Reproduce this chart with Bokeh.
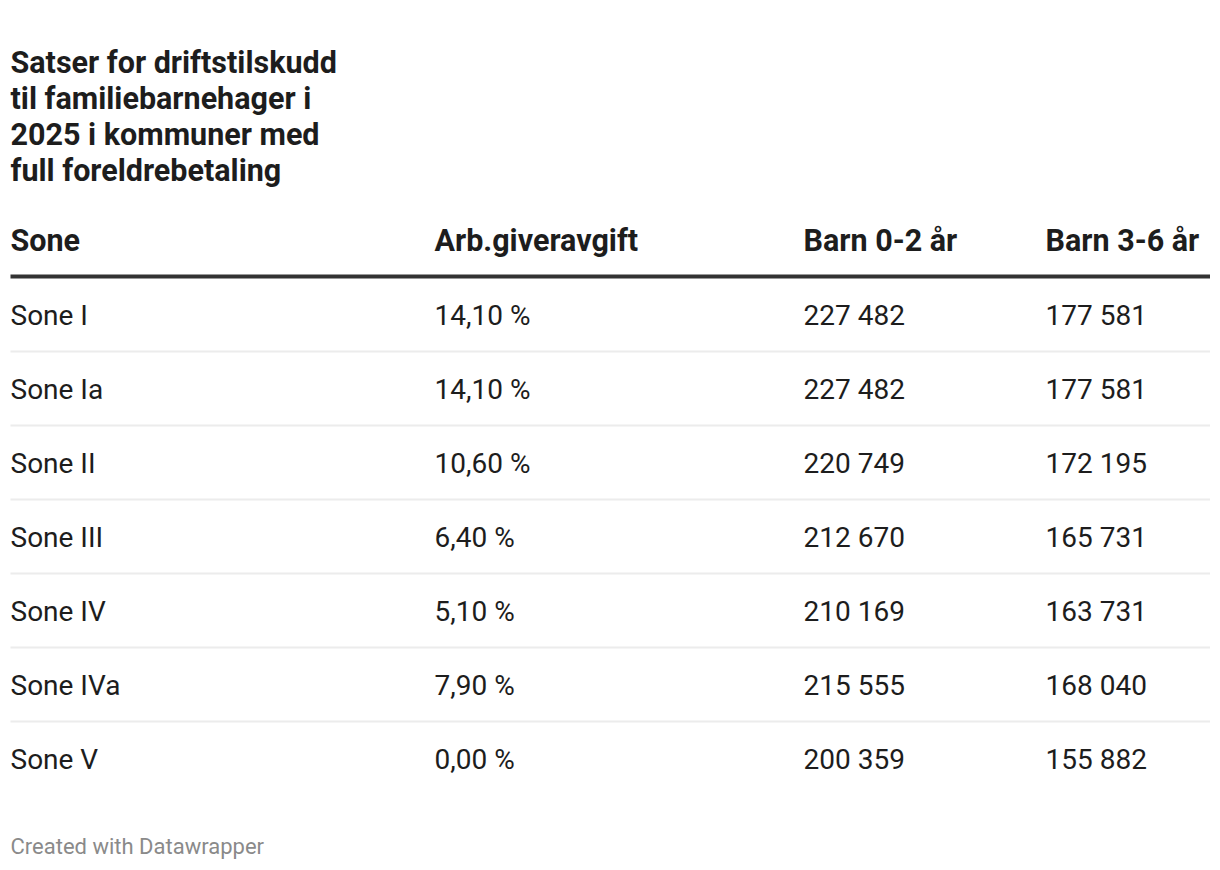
from bokeh.plotting import figure
from bokeh.models import Range1d, ColumnDataSource
from bokeh.core.properties import value
from bokeh.embed import file_html
from bokeh.resources import INLINE

title_lines = ["Satser for driftstilskudd", "til familiebarnehager i", "2025 i kommuner med", "full foreldrebetaling"]
headers = ["Sone", "Arb.giveravgift", "Barn 0-2 år", "Barn 3-6 år"]
sones = ["Sone I", "Sone Ia", "Sone II", "Sone III", "Sone IV", "Sone IVa", "Sone V"]
arb_avgift = ["14,10 %", "14,10 %", "10,60 %", "6,40 %", "5,10 %", "7,90 %", "0,00 %"]
barn_0_2 = ["227 482", "227 482", "220 749", "212 670", "210 169", "215 555", "200 359"]
barn_3_6 = ["177 581", "177 581", "172 195", "165 731", "163 731", "168 040", "155 882"]
footer = "Created with Datawrapper"

W, H = 1210, 862
p = figure(width=W, height=H, output_backend="svg", toolbar_location=None,
           x_range=Range1d(0, W), y_range=Range1d(H, 0),
           min_border=0, outline_line_color=None)
p.axis.visible = False
p.grid.visible = False
p.background_fill_color = "white"

FONT = value("Roboto")
DARK = "#1d1d1d"

# title
ty = [62 + 36 * i for i in range(len(title_lines))]
p.text(x=[10] * len(title_lines), y=ty, text=title_lines, text_font=FONT,
       text_font_size="30.5px", text_font_style="bold", text_color=DARK,
       text_baseline="alphabetic", text_align="left")

col_x = [10, 434, 803, 1045]

# header
p.text(x=col_x, y=[240] * 4, text=headers, text_font=FONT, text_font_size="30.5px",
       text_font_style="bold", text_color=DARK, text_baseline="alphabetic")
p.segment(x0=[10], y0=[276], x1=[1210], y1=[276], line_width=4, line_color="#333333")

# rows
n = len(sones)
row_base = [315 + 74 * i for i in range(n)]
for cx, col in zip(col_x, [sones, arb_avgift, barn_0_2, barn_3_6]):
    src = ColumnDataSource(dict(x=[cx] * n, y=row_base, t=col))
    p.text(x="x", y="y", text="t", source=src, text_font=FONT, text_font_size="28px",
           text_color=DARK, text_baseline="alphabetic")

sep_y = [351 + 74 * i for i in range(n - 1)]
p.segment(x0=[10] * len(sep_y), y0=sep_y, x1=[1210] * len(sep_y), y1=sep_y,
          line_width=2, line_color="#ececec")

# footer
p.text(x=[10], y=[846], text=[footer], text_font=FONT, text_font_size="22px",
       text_color="#8a8a8a", text_baseline="alphabetic")

open("out.html", "w").write(file_html(p, INLINE))
